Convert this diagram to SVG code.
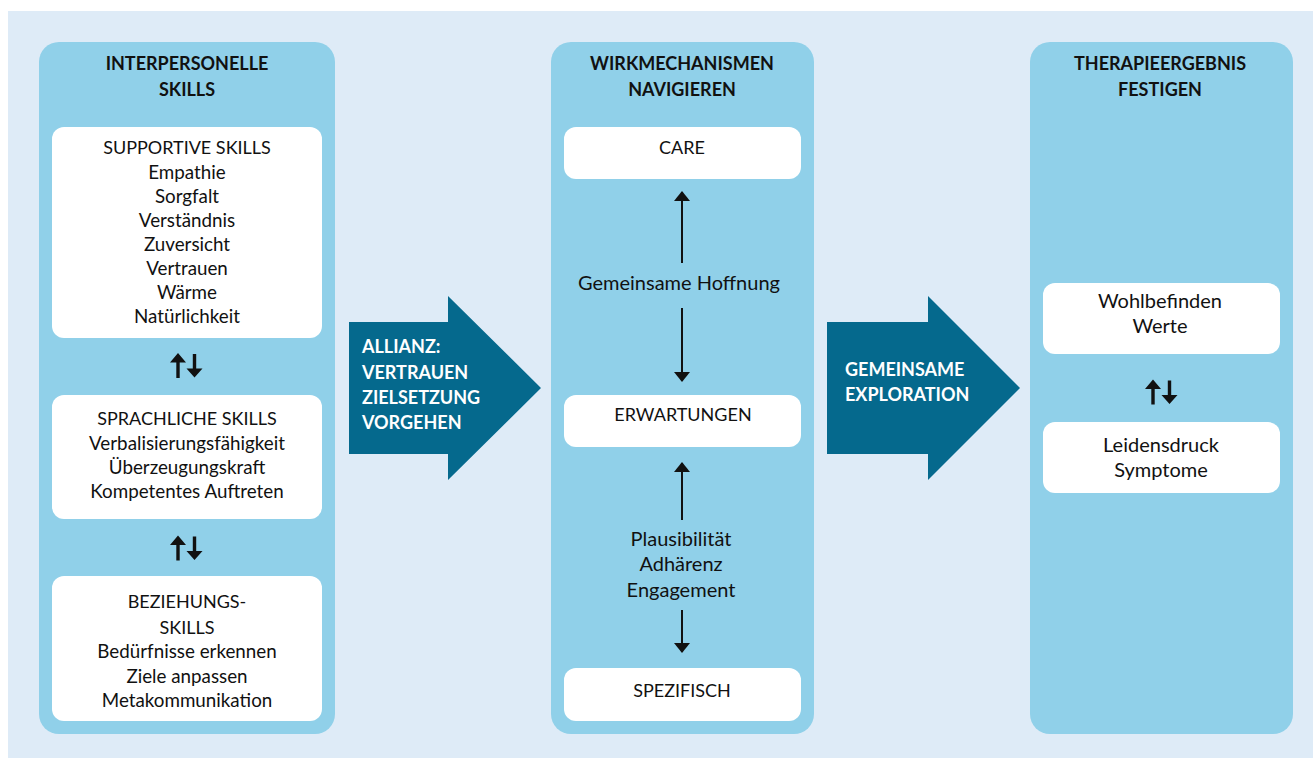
<svg xmlns="http://www.w3.org/2000/svg" xmlns:xlink="http://www.w3.org/1999/xlink" width="1313" height="758" viewBox="0 0 1313 758">
<style>
.bg{fill:#ffffff}
.canvas{fill:#deebf7}
.panel{fill:#90d0e9}
.box{fill:#ffffff}
.big{fill:#05698d}
text{font-family:Lato,"Open Sans","Liberation Sans",sans-serif;font-size:18px;fill:#111111;text-anchor:middle}
.title{font-weight:bold}
.l{font-size:18.8px}
.m{font-size:20px}
.wt{fill:#ffffff;font-weight:bold;text-anchor:start}
.conn{stroke:#111111;stroke-width:2;fill:none}
.glyph{fill:#111111}
</style>
<defs>
<marker id="ah2" viewBox="0 0 10 16" refX="9" refY="8" markerWidth="10" markerHeight="16" markerUnits="userSpaceOnUse" orient="auto">
<path d="M0,0 L10,8 L0,16 z" fill="#111111"/>
</marker>
<g id="updown">
<path class="glyph" d="M-9.7,-4 L-6.3,-4 L-6.3,12.5 L-9.7,12.5 z M-16,-3 L-8,-12.5 L0,-3 z"/>
<path class="glyph" d="M6.8,-11.5 L10.2,-11.5 L10.2,4 L6.8,4 z M0.5,3 L16.5,3 L8.5,12 z"/>
</g>
</defs>
<rect class="bg" x="0" y="0" width="1313" height="758"/>
<rect class="canvas" x="8" y="11" width="1305" height="747"/>

<g id="panel-interpersonelle">
<rect class="panel" x="39" y="42" width="296" height="692" rx="20"/>
<text class="title" x="187" y="70">INTERPERSONELLE</text>
<text class="title" x="187" y="96">SKILLS</text>
</g>
<g id="box-supportive">
<rect class="box" x="52" y="127" width="270" height="211" rx="12"/>
<text x="187" y="154">SUPPORTIVE SKILLS</text>
<text class="l" x="187" y="179">Empathie</text>
<text class="l" x="187" y="203">Sorgfalt</text>
<text class="l" x="187" y="227">Verständnis</text>
<text class="l" x="187" y="251">Zuversicht</text>
<text class="l" x="187" y="275">Vertrauen</text>
<text class="l" x="187" y="299">Wärme</text>
<text class="l" x="187" y="323">Natürlichkeit</text>
</g>
<g id="box-sprachlich">
<rect class="box" x="52" y="395" width="270" height="124" rx="12"/>
<text x="187" y="425">SPRACHLICHE SKILLS</text>
<text class="l" x="187" y="450">Verbalisierungsfähigkeit</text>
<text class="l" x="187" y="474">Überzeugungskraft</text>
<text class="l" x="187" y="498">Kompetentes Auftreten</text>
</g>
<g id="box-beziehung">
<rect class="box" x="52" y="576" width="270" height="145" rx="12"/>
<text x="187" y="608">BEZIEHUNGS-</text>
<text x="187" y="634">SKILLS</text>
<text class="l" x="187" y="658">Bedürfnisse erkennen</text>
<text class="l" x="187" y="683">Ziele anpassen</text>
<text class="l" x="187" y="707">Metakommunikation</text>
</g>

<g id="arrow-allianz">
<path class="big" d="M349,322 L448,322 L448,296 L541,388 L448,480 L448,454 L349,454 z"/>
<text class="wt" x="362" y="353">ALLIANZ:</text>
<text class="wt" x="362" y="379">VERTRAUEN</text>
<text class="wt" x="362" y="404">ZIELSETZUNG</text>
<text class="wt" x="362" y="429">VORGEHEN</text>
</g>

<g id="panel-wirkmechanismen">
<rect class="panel" x="551" y="42" width="263" height="692" rx="20"/>
<text class="title" x="682" y="70">WIRKMECHANISMEN</text>
<text class="title" x="682" y="96">NAVIGIEREN</text>
</g>
<g id="box-care">
<rect class="box" x="564" y="127" width="237" height="52" rx="12"/>
<text x="682" y="154">CARE</text>
</g>
<g id="label-hoffnung">
<text class="m" x="679" y="290">Gemeinsame Hoffnung</text>
</g>
<g id="box-erwartungen">
<rect class="box" x="564" y="395" width="237" height="52" rx="12"/>
<text x="683" y="421">ERWARTUNGEN</text>
</g>
<g id="label-plausibilitaet">
<text class="m" x="681" y="546">Plausibilität</text>
<text class="m" x="681" y="571">Adhärenz</text>
<text class="m" x="681" y="597">Engagement</text>
</g>
<g id="box-spezifisch">
<rect class="box" x="564" y="668" width="237" height="53" rx="12"/>
<text x="682" y="697">SPEZIFISCH</text>
</g>

<g id="arrow-exploration">
<path class="big" d="M827,322 L928,322 L928,296 L1020,388 L928,480 L928,454 L827,454 z"/>
<text class="wt" x="845" y="376">GEMEINSAME</text>
<text class="wt" x="845" y="401">EXPLORATION</text>
</g>

<g id="panel-therapieergebnis">
<rect class="panel" x="1030" y="42" width="263" height="692" rx="20"/>
<text class="title" x="1160" y="70">THERAPIEERGEBNIS</text>
<text class="title" x="1160" y="96">FESTIGEN</text>
</g>
<g id="box-wohlbefinden">
<rect class="box" x="1043" y="283" width="237" height="71" rx="12"/>
<text class="m" x="1160" y="308">Wohlbefinden</text>
<text class="m" x="1160" y="333">Werte</text>
</g>
<g id="box-leidensdruck">
<rect class="box" x="1043" y="422" width="237" height="71" rx="12"/>
<text class="m" x="1161" y="452">Leidensdruck</text>
<text class="m" x="1161" y="477">Symptome</text>
</g>

<g id="connectors">
<use xlink:href="#updown" x="186" y="365.5"/>
<use xlink:href="#updown" x="186" y="548"/>
<use xlink:href="#updown" x="1161" y="392"/>
<line class="conn" x1="682" y1="263" x2="682" y2="192" marker-end="url(#ah2)"/>
<line class="conn" x1="682" y1="308" x2="682" y2="381" marker-end="url(#ah2)"/>
<line class="conn" x1="682" y1="520" x2="682" y2="463" marker-end="url(#ah2)"/>
<line class="conn" x1="682" y1="610" x2="682" y2="652" marker-end="url(#ah2)"/>
</g>
</svg>
